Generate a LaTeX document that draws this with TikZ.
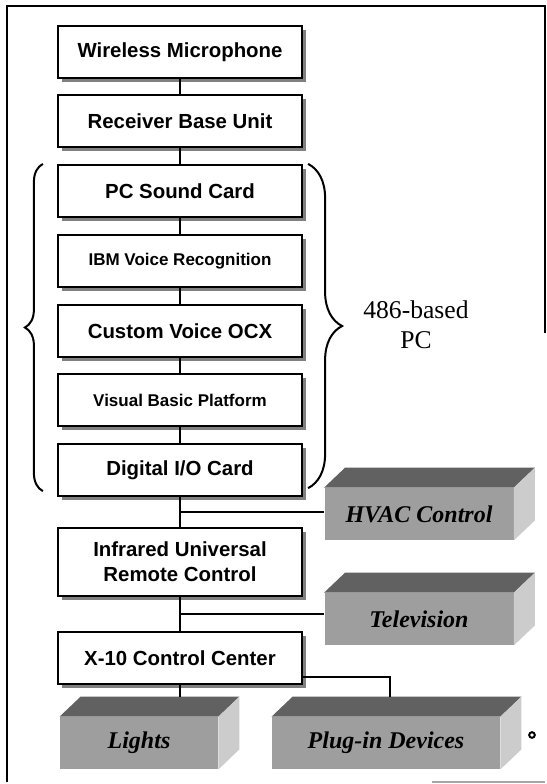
\documentclass[tikz,border=0pt]{standalone}
\usepackage{fontspec}
\setmainfont{Liberation Serif}
\newfontfamily\labelfont{Liberation Sans}
\usetikzlibrary{arrows.meta,positioning,calc,shadows,decorations.pathreplacing}

\begin{document}
\begin{tikzpicture}[x=0.5pt, y=-0.5pt,
  unit/.style={draw, line width=1.1pt, fill=white, minimum width=122pt, minimum height=26pt, inner sep=1pt, align=center,
    font=\labelfont\bfseries\fontsize{10.2}{12.5}\selectfont,
    drop shadow={shadow xshift=2pt, shadow yshift=-2pt, fill=black!50, opacity=1}},
  smalltxt/.style={font=\labelfont\bfseries\fontsize{8.5}{10}\selectfont},
  slab/.style={fill=black!38, minimum height=26pt, inner sep=0pt, font=\bfseries\itshape\fontsize{12}{14}\selectfont},
  topface/.style={fill=black!62},
  sideface/.style={fill=black!20},
  wire/.style={line width=1pt},
  brc/.style={line width=1pt, decorate, decoration={brace, amplitude=#1}}]
\useasboundingbox (0,0) rectangle (547,784);
% frame
\draw[line width=1pt] (7,782) -- (7,6) -- (545,6) -- (545,333);
\draw[black!35, line width=1pt] (432,782) -- (545,782);
% processing chain
\node[unit] (mic) at (180,52) {Wireless Microphone};
\node[unit] (rx) at (180,121) {Receiver Base Unit};
\node[unit] (snd) at (180,191) {PC Sound Card};
\node[unit, smalltxt] (ibm) at (180,261) {IBM Voice Recognition};
\node[unit] (ocx) at (180,331) {Custom Voice OCX};
\node[unit, smalltxt] (vb) at (180,400) {Visual Basic Platform};
\node[unit] (dio) at (180,470) {Digital I/O Card};
\node[unit, minimum height=34pt] (ir) at (180,562) {Infrared Universal\\Remote Control};
\node[unit] (xten) at (180,658) {X-10 Control Center};
\draw[wire] (mic) -- (rx); \draw[wire] (rx) -- (snd); \draw[wire] (snd) -- (ibm);
\draw[wire] (ibm) -- (ocx); \draw[wire] (ocx) -- (vb); \draw[wire] (vb) -- (dio);
\draw[wire] (dio) -- (ir); \draw[wire] (ir) -- (xten);
% the PC
\draw[brc=9pt] ($(dio.south west)+(-14,-6)$) -- ($(snd.north west)+(-14,0)$);
\draw[brc=17pt] ($(snd.north east)+(5,0)$) -- ($(dio.south east)+(5,-9)$);
\node[font=\fontsize{12.8}{15}\selectfont, align=center] (pc) at (416,325) {486-based\\PC};
% controlled devices
\node[slab, minimum width=94.5pt] (hvac) at (419,514) {HVAC Control};
\fill[topface] (hvac.north west) -- ++(21,-20) -- ($(hvac.north east)+(21,-20)$) -- (hvac.north east) -- cycle;
\fill[sideface] (hvac.north east) -- ++(21,-20) -- ($(hvac.south east)+(21,-20)$) -- (hvac.south east) -- cycle;
\node[slab, minimum width=94.5pt] (tv) at (419,619) {Television};
\fill[topface] (tv.north west) -- ++(21,-20) -- ($(tv.north east)+(21,-20)$) -- (tv.north east) -- cycle;
\fill[sideface] (tv.north east) -- ++(21,-20) -- ($(tv.south east)+(21,-20)$) -- (tv.south east) -- cycle;
\node[slab, minimum width=79pt] (lights) at (139,743) {Lights};
\fill[topface] (lights.north west) -- ++(21,-20) -- ($(lights.north east)+(21,-20)$) -- (lights.north east) -- cycle;
\fill[sideface] (lights.north east) -- ++(21,-20) -- ($(lights.south east)+(21,-20)$) -- (lights.south east) -- cycle;
\node[slab, minimum width=114pt] (plug) at (386,743) {Plug-in Devices};
\fill[topface] (plug.north west) -- ++(21,-20) -- ($(plug.north east)+(21,-20)$) -- (plug.north east) -- cycle;
\fill[sideface] (plug.north east) -- ++(21,-20) -- ($(plug.south east)+(21,-20)$) -- (plug.south east) -- cycle;
% branches
\coordinate (j1) at ($(dio.south)!0.5!(ir.north)$);
\coordinate (j2) at ($(ir.south)!0.5!(xten.north)$);
\coordinate (ltop) at ($(lights.north)+(0,-20)$);
\coordinate (ptop) at ($(plug.north)+(4,-20)$);
\draw[wire] (j1) -- (j1 -| hvac.west);
\draw[wire] (j2) -- (j2 -| tv.west);
\draw[wire] (xten.south) -- (xten.south |- ltop);
\draw[wire] ($(xten.south east)+(0,-8)$) -| (ptop);
\draw[line width=1pt] (532,735) circle (1.4pt);
\end{tikzpicture}
\end{document}
